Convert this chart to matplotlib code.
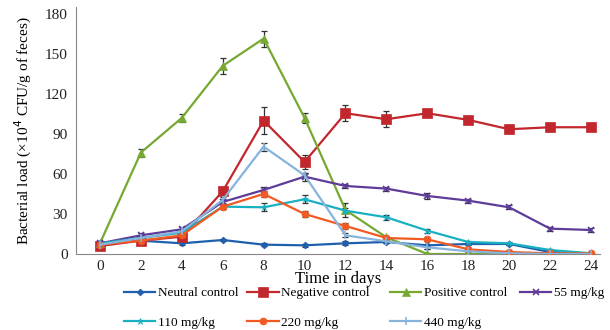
import matplotlib.pyplot as plt
import numpy as np

# Zeitpunkte (Tage)
days = [0, 2, 4, 6, 8, 10, 12, 14, 16, 18, 20, 22, 24]

# Werte der einzelnen Gruppen (x10^4 CFU/g)
neutral = [8, 10, 8, 10.5, 7, 6.5, 8, 9, 6.5, 7.5, 7.5, 1.5, 0.5]
negative = [6, 10, 13, 47, 100, 69, 105.5, 101, 105.5, 100.5, 93.5, 95, 95]
positive = [8, 76, 102, 141, 161.5, 102, 33, 12.5, 0, 0, 0, 0, 0]
mg55 = [8, 14, 18.5, 39, 48, 58, 51, 49, 43.5, 40, 35, 19, 18]
mg110 = [8, 12, 16, 35.5, 35, 41, 32.5, 27.5, 17.5, 9, 8, 3, 0.5]
mg220 = [7, 10, 14, 35.5, 45, 30, 21, 12, 11, 3.5, 1.5, 0.5, 0.5]
mg440 = [7, 12, 17, 40.5, 80.5, 59, 14, 9.5, 5, 2, 0.5, 0, 0]

# Fehlerbalken
neutral_err = [1, 1, 1, 1, 1, 1, 1.5, 1, 3, 1, 1, 0.5, 0.5]
negative_err = [1, 1.5, 1.5, 3, 10, 5, 6, 6, 2, 2, 3, 2, 2]
positive_err = [1, 3, 3, 6, 6, 4, 5, 1, 0.5, 0.5, 0.5, 0.5, 0.5]
mg55_err = [1, 1.5, 1.5, 2, 2, 3, 1.5, 1.5, 2, 1.5, 1.5, 1.5, 1.5]
mg110_err = [1, 1, 1, 2, 3, 3, 2, 2, 1.5, 1, 1, 0.5, 0.5]
mg220_err = [1, 1, 1.5, 2, 2, 2, 2, 1.5, 1.5, 1, 0.5, 0.5, 0.5]
mg440_err = [1, 1, 1.5, 2, 3, 2, 1.5, 1, 1, 0.5, 0.5, 0.5, 0.5]

labels = ["Neutral control", "Negative control", "Positive control", "55 mg/kg",
          "110 mg/kg", "220 mg/kg", "440 mg/kg"]

plt.rcParams['font.family'] = ['Liberation Serif', 'DejaVu Serif']

fig = plt.figure(figsize=(6.1, 3.3), dpi=100)
ax = fig.add_axes([0.1246, 0.2303, 0.859, 0.748])

series = [
    (neutral, neutral_err, "#1f5fae", "D", 3.5),
    (negative, negative_err, "#c1272d", "s", 6.5),
    (positive, positive_err, "#76a832", "^", 5.5),
    (mg55, mg55_err, "#5e3c99", "x", 5),
    (mg110, mg110_err, "#19b1c2", "*", 5),
    (mg220, mg220_err, "#f15a22", "o", 5),
    (mg440, mg440_err, "#86b4dc", "|", 6),
]

handles = []
for (vals, err, col, mk, ms), lab in zip(series, labels):
    ax.errorbar(days, vals, yerr=err, fmt="none", ecolor="#333333",
                elinewidth=0.9, capsize=2.5, capthick=0.9, zorder=2)
    h, = ax.plot(days, vals, color=col, marker=mk, markersize=ms,
                 linewidth=1.6, label=lab, zorder=3,
                 markeredgewidth=1.2 if mk in ("x", "|") else 0.5)
    handles.append(h)

ax.set_xlim(-1.17, 24.44)
ax.set_ylim(0, 185)
ax.set_xticks(days)
ax.set_yticks([0, 30, 60, 90, 120, 150, 180])
ax.tick_params(length=0, labelsize=11, colors="#222222", pad=4)
ax.tick_params(axis="y", pad=6)
for s in ["top", "right"]:
    ax.spines[s].set_visible(False)
ax.spines["left"].set_color("#888888")
ax.spines["bottom"].set_color("#888888")
ax.set_xlabel("Time in days", fontsize=12, labelpad=-1)
ax.set_ylabel(r"Bacterial load (×10$^4$ CFU/g of feces)", fontsize=11, labelpad=8)

# Legende: vier Spalten, jede einzeln positioniert
columns = [[0, 4], [1, 5], [2, 6], [3]]
col_x = [0.203, 0.405, 0.639, 0.852]
for idx, x in zip(columns, col_x):
    leg = fig.legend(handles=[handles[i] for i in idx], labels=[labels[i] for i in idx],
                     loc="upper left", bbox_to_anchor=(x, 0.13), frameon=False,
                     fontsize=9.5, handlelength=2.4, handletextpad=0.2,
                     labelspacing=1.3, borderpad=0, borderaxespad=0)

plt.savefig("out.png", dpi=100)
